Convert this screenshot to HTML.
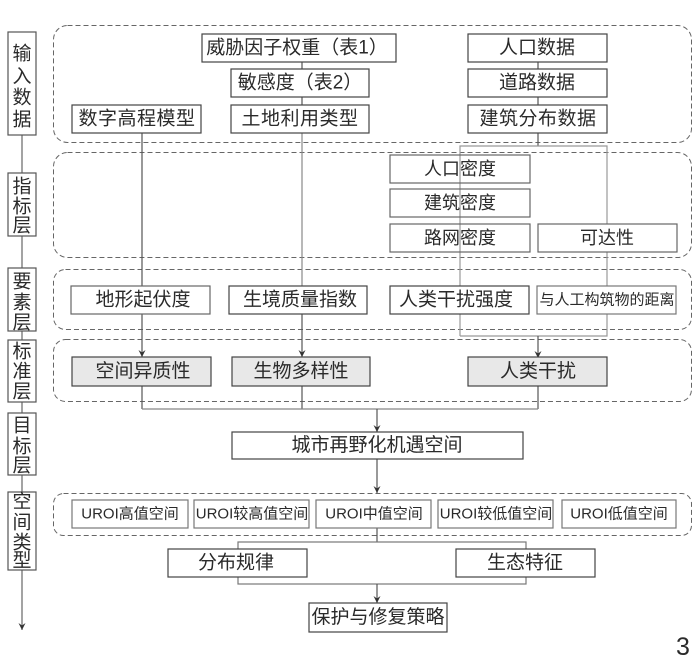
<!DOCTYPE html>
<html><head><meta charset="utf-8"><style>
html,body{margin:0;padding:0;background:#fff;}
svg{display:block;}
text{font-family:"Liberation Sans","Noto Sans CJK SC",sans-serif;fill:#2a2a2a;}
</style></head><body>
<svg width="700" height="666" viewBox="0 0 700 666" xmlns="http://www.w3.org/2000/svg">
<defs>
<marker id="ar" markerWidth="9" markerHeight="9" refX="7" refY="4" orient="auto" markerUnits="userSpaceOnUse">
<path d="M0,0.5 L7,4 L0,7.5 L2.5,4 Z" fill="#333"/>
</marker>
</defs>

<!-- left axis -->
<line x1="22" y1="135" x2="22" y2="630" stroke="#666" stroke-width="1.2" marker-end="url(#ar)"/>
<g fill="#fff" stroke="#555" stroke-width="1.2">
<rect x="8" y="32" width="28" height="103"/>
<rect x="8" y="173" width="28" height="63"/>
<rect x="8" y="268" width="28" height="63"/>
<rect x="8" y="340" width="28" height="62"/>
<rect x="8" y="413" width="28" height="62"/>
<rect x="8" y="492" width="28" height="78"/>
</g>
<g font-size="19" text-anchor="middle" dominant-baseline="central">
<text x="22" y="54">输</text><text x="22" y="77">入</text><text x="22" y="98">数</text><text x="22" y="120">据</text>
<text x="22" y="187">指</text><text x="22" y="207">标</text><text x="22" y="226">层</text>
<text x="22" y="282">要</text><text x="22" y="303">素</text><text x="22" y="323">层</text>
<text x="22" y="352">标</text><text x="22" y="372">准</text><text x="22" y="392">层</text>
<text x="22" y="426">目</text><text x="22" y="447">标</text><text x="22" y="466">层</text>
<text x="22" y="502">空</text><text x="22" y="523">间</text><text x="22" y="543">类</text><text x="22" y="561">型</text>
</g>

<!-- dashed groups -->
<g fill="none" stroke="#666" stroke-width="1" stroke-dasharray="5 3">
<rect x="53.5" y="25.5" width="638" height="117" rx="14"/>
<rect x="53.5" y="152.5" width="638" height="105" rx="14"/>
<rect x="53.5" y="269.5" width="638" height="60" rx="12"/>
<rect x="53.5" y="339.5" width="638" height="62" rx="12"/>
<rect x="53.5" y="493.5" width="638" height="42" rx="10"/>
</g>

<!-- connectors -->
<g stroke="#555" stroke-width="1.2" fill="none">
<line x1="142" y1="133" x2="142" y2="286"/>
<line x1="142" y1="314" x2="142" y2="357" marker-end="url(#ar)"/>
<line x1="302" y1="62" x2="302" y2="69"/>
<line x1="302" y1="97" x2="302" y2="105"/>
<line x1="302" y1="133" x2="302" y2="286" stroke="#888"/>
<line x1="302" y1="314" x2="302" y2="357" marker-end="url(#ar)"/>
<line x1="538" y1="62" x2="538" y2="69"/>
<line x1="538" y1="97" x2="538" y2="105"/>
<line x1="538" y1="133" x2="538" y2="146"/>
<polyline points="460,336 460,146 607,146 607,224" stroke="#999"/>
<line x1="607" y1="252" x2="607" y2="286" stroke="#999"/>
<polyline points="607,314 607,336 460,336" stroke="#999"/>
<line x1="538" y1="336" x2="538" y2="358" marker-end="url(#ar)"/>
<line x1="142" y1="386" x2="142" y2="409"/>
<line x1="302" y1="386" x2="302" y2="409"/>
<line x1="538" y1="386" x2="538" y2="409"/>
<line x1="142" y1="409" x2="538" y2="409" stroke="#888"/>
<line x1="377" y1="409" x2="377" y2="432" marker-end="url(#ar)"/>
<line x1="377" y1="459" x2="377" y2="493" marker-end="url(#ar)"/>
<line x1="377" y1="528" x2="377" y2="542"/>
<rect x="238" y="542" width="288" height="42" stroke="#777"/>
<line x1="377" y1="584" x2="377" y2="603" marker-end="url(#ar)"/>
</g>

<!-- boxes -->
<g stroke="#444" stroke-width="1.2" fill="#fff">
<rect x="202" y="34" width="194" height="28"/>
<rect x="231" y="69" width="138" height="28"/>
<rect x="231" y="105" width="138" height="28"/>
<rect x="72" y="105" width="129" height="28"/>
<rect x="468" y="34" width="139" height="28"/>
<rect x="468" y="69" width="139" height="28"/>
<rect x="468" y="105" width="139" height="28"/>
<rect x="390" y="155" width="140" height="28" fill="none" stroke="#666"/>
<rect x="390" y="189" width="140" height="28" fill="none" stroke="#666"/>
<rect x="390" y="224" width="140" height="28" fill="none" stroke="#666"/>
<rect x="538" y="224" width="139" height="28" stroke="#666"/>
<rect x="71" y="286" width="139" height="28" stroke="#666"/>
<rect x="229" y="286" width="138" height="28"/>
<rect x="390" y="286" width="139" height="28"/>
<rect x="537" y="286" width="139" height="28" stroke="#777"/>
<rect x="72" y="357" width="139" height="29" fill="#e8e8e8"/>
<rect x="232" y="357" width="138" height="29" fill="#e8e8e8"/>
<rect x="468" y="357" width="139" height="29" fill="#e8e8e8"/>
<rect x="232" y="432" width="291" height="27"/>
<rect x="72" y="500" width="116" height="28" stroke="#777"/>
<rect x="194" y="500" width="115" height="28" stroke="#777"/>
<rect x="316" y="500" width="115" height="28" stroke="#777"/>
<rect x="438" y="500" width="115" height="28" stroke="#777"/>
<rect x="562" y="500" width="114" height="28" stroke="#777"/>
<rect x="168" y="549" width="139" height="28"/>
<rect x="456" y="549" width="139" height="28"/>
<rect x="309" y="603" width="138" height="29"/>
</g>

<!-- labels -->
<g font-size="19" text-anchor="middle" dominant-baseline="central">
<text x="297" y="48">威胁因子权重（表1）</text>
<text x="300" y="83">敏感度（表2）</text>
<text x="300" y="119" letter-spacing="0.5">土地利用类型</text>
<text x="137" y="119" letter-spacing="0.5">数字高程模型</text>
<text x="537" y="48">人口数据</text>
<text x="537" y="83">道路数据</text>
<text x="538" y="119" letter-spacing="0.5">建筑分布数据</text>
<text x="460" y="169" font-size="18">人口密度</text>
<text x="460" y="203" font-size="18">建筑密度</text>
<text x="460" y="238" font-size="18">路网密度</text>
<text x="607" y="238" font-size="18">可达性</text>
<text x="143" y="300">地形起伏度</text>
<text x="300" y="300">生境质量指数</text>
<text x="456" y="300">人类干扰强度</text>
<text x="607" y="300" font-size="15">与人工构筑物的距离</text>
<text x="143" y="371.5">空间异质性</text>
<text x="301" y="371.5">生物多样性</text>
<text x="538" y="371.5">人类干扰</text>
<text x="377" y="445.5">城市再野化机遇空间</text>
<text x="130" y="514" font-size="15">UROI高值空间</text>
<text x="252" y="514" font-size="15">UROI较高值空间</text>
<text x="374" y="514" font-size="15">UROI中值空间</text>
<text x="496" y="514" font-size="15">UROI较低值空间</text>
<text x="619" y="514" font-size="15">UROI低值空间</text>
<text x="236" y="563">分布规律</text>
<text x="525" y="563">生态特征</text>
<text x="378" y="617.5">保护与修复策略</text>
</g>
<text x="683" y="655" font-size="25" text-anchor="middle">3</text>
</svg>
</body></html>
